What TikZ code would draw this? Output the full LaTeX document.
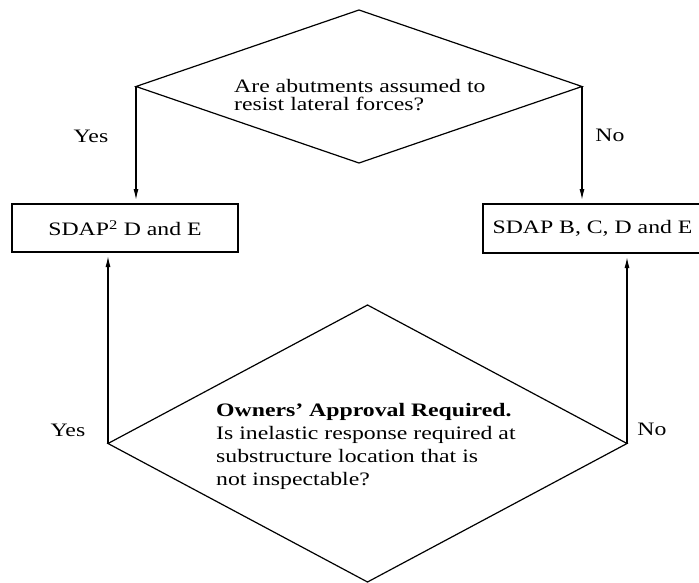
\documentclass[tikz,border=0pt]{standalone}
\usepackage{fontspec}
\setmainfont[FakeStretch=1.25]{Liberation Serif}
\usetikzlibrary{shapes.geometric,arrows.meta}
\begin{document}
\begin{tikzpicture}[x=1pt,y=1pt,
  lw/.style={line width=1.2pt},
  dia/.style={diamond, draw, lw, inner sep=0pt, outer sep=0pt},
  boxnode/.style={rectangle, draw, lw, inner sep=0pt, outer sep=0pt, font=\fontsize{19}{23}\selectfont},
  arr/.style={lw, -{Latex[length=11pt,width=5pt]}, shorten >=4pt},
  lbl/.style={inner sep=0pt, font=\fontsize{19}{23}\selectfont}]
\useasboundingbox (0,0) rectangle (699,-583);
\clip (0,0) rectangle (699,-583);
% decisions
\node[dia, minimum width=446pt, minimum height=153pt] (td) at (359,-86.5) {};
\node[dia, minimum width=519pt, minimum height=277pt] (bd) at (367.5,-443.5) {};
% boxes
\node[boxnode, minimum width=226pt, minimum height=48pt] (lbox) at (125,-228) {SDAP\textsuperscript{2} D and E};
\node[boxnode, minimum width=219pt, minimum height=49pt] (rbox) at (592.5,-228.5) {SDAP B, C, D and E};
% texts
\node[lbl, anchor=north west, align=left, font=\fontsize{19}{18.5}\selectfont] (tq) at (234,-79) {Are abutments assumed to\\resist lateral forces?};
\node[lbl, anchor=north west, align=left] (bq) at (216,-403) {\textbf{Owners' Approval Required.}\\Is inelastic response required at\\substructure location that is\\not inspectable?};
% connectors
\draw[arr] (td.west) -- (td.west |- lbox.north);
\draw[arr] (td.east) -- (td.east |- rbox.north);
\draw[arr] (bd.west) -- (bd.west |- lbox.south);
\draw[arr] (bd.east) -- (bd.east |- rbox.south);
% labels
\node[lbl] (y1) at (91,-136) {Yes};
\node[lbl] (n1) at (610,-135) {No};
\node[lbl] (y2) at (68,-430) {Yes};
\node[lbl] (n2) at (652,-429) {No};
\end{tikzpicture}
\end{document}
